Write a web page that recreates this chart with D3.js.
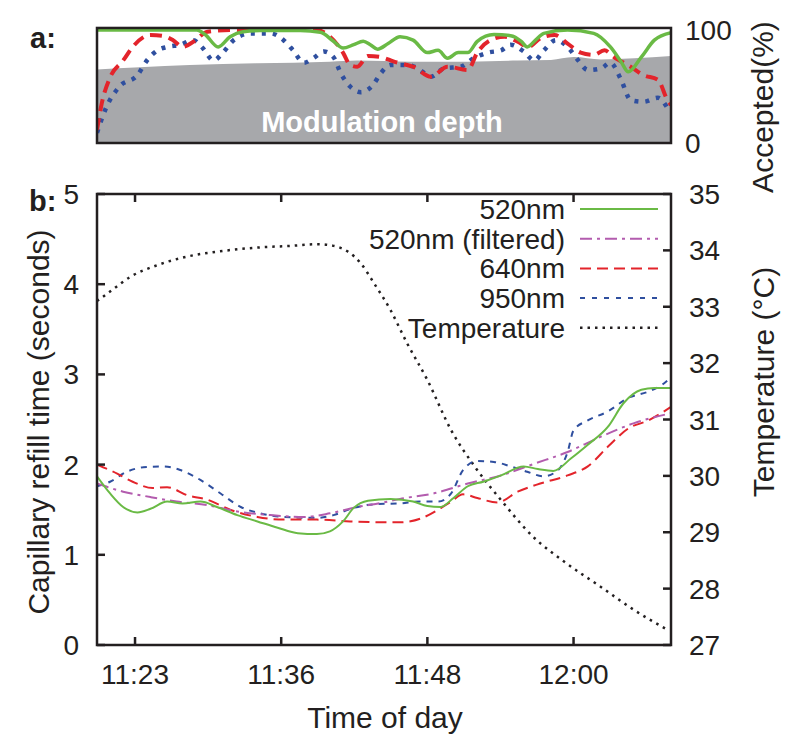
<!DOCTYPE html>
<html><head><meta charset="utf-8">
<script src="https://cdn.jsdelivr.net/npm/d3@7"></script>
<style>
body{margin:0;background:#fff}
text{font-family:"Liberation Sans",Arial,Helvetica,sans-serif;fill:#231f20}
</style>
</head><body><svg id="c" width="800" height="750"></svg>
<script>
// ---------- DATA (time = minutes after 11:00) ----------
// Panel a: acceptance (%) and modulation depth
const tGreenA = [20.7,29.1,29.8,30.9,31.9,33.0,34.4,37.8,39.5,40.6,41.4,42.3,43.1,43.7,44.3,45.2,46.2,47.3,48.5,49.4,50.2,51.1,51.9,52.7,54.1,55.5,56.4,56.9,57.6,58.3,60.3,62.5,63.9,64.8,65.4,66.5,67.6,69.0];
const accGreen = [100,100,96,85,94,98.5,99.5,99.5,98,90,84,87,90,87,83,88,94,91,80,82,75,80,80,90,96,95,90,85,91,97,100,97,85,72,63,76,91,97.6];
const tRedA = [20.7,21.1,21.8,22.9,23.7,25.2,26.3,27.1,27.9,28.8,30.0,31.9,39.2,40.3,41.4,42.0,42.6,43.5,44.6,45.7,46.8,47.3,48.8,50.2,51.9,52.7,53.8,55.0,56.1,57.0,58.0,59.2,60.3,61.4,62.5,63.4,64.2,65.6,66.7,67.9,68.7,69.0];
const accRed = [11.5,35,58,73,85,95.6,94.7,91,85,89.6,98.5,100,100,94,80,69,67.5,77,76,72,69,67.5,58.7,67.5,64.6,80,91,94,89.6,85,92.6,95.6,88,80,78,82,76,67.5,60,56,38,33.6];
const tBlueA = [20.7,21.5,22.6,24.1,24.9,25.8,26.6,27.7,28.8,29.6,30.5,31.3,32.2,33.6,35.3,36.4,37.2,38.1,38.9,39.8,40.6,41.2,42.0,42.9,43.9,44.6,45.4,46.8,47.7,48.8,49.9,51.3,52.4,53.6,54.7,55.5,56.6,57.5,58.3,59.3,60.3,61.2,62.0,63.1,63.9,64.8,65.6,66.7,67.9,68.7];
const accBlue = [9,32,50,60,73,82,85,87,91,84,73,80,91,97,97,91,82,71,75,81,76,62,50,45,51,62,69,69,66,58.7,66,67.5,75,80,82,87,81,73,82,91,85,73,64.6,66,71,56,38,36.5,40,31];
const tDepth = [20.7,24.3,28.5,34.2,40.3,42.6,47.1,51.9,56.1,58.9,60.8,63.1,65.9,69.0];
const depth = [65,67,69,70.5,72,73,72,72,73,73.5,76,74,75,77];

// Panel b: capillary refill time (s) and temperature (°C)
const t520 = [20.7,21.8,22.9,24.1,25.2,26.6,27.9,29.4,30.8,32.5,34.2,35.9,37.6,39.2,40.3,41.4,42.3,43.5,45.4,47.3,48.5,49.6,50.7,51.9,53.2,54.7,56.6,57.8,59.1,60.6,62.0,63.7,65.0,66.5,67.6,69.0];
const v520 = [1.87,1.68,1.53,1.47,1.51,1.59,1.57,1.59,1.53,1.44,1.37,1.30,1.24,1.23,1.26,1.37,1.52,1.60,1.62,1.59,1.54,1.53,1.63,1.76,1.81,1.88,1.98,1.95,1.93,2.07,2.22,2.42,2.68,2.83,2.85,2.85];
const tFilt = [20.7,22.9,25.2,27.4,30.0,32.5,35.3,38.1,40.3,42.6,44.8,46.2,49.0,51.9,54.7,57.5,60.3,63.1,65.9,69.0];
const vFilt = [1.79,1.70,1.64,1.59,1.55,1.48,1.44,1.42,1.46,1.53,1.58,1.62,1.68,1.79,1.88,2.01,2.14,2.31,2.46,2.57];
const t640 = [20.7,22.4,23.7,25.4,26.6,28.3,30.0,31.9,34.2,36.4,39.2,42.0,44.8,46.2,47.9,49.4,50.5,51.5,52.7,54.4,56.1,58.0,60.3,62.0,63.7,65.4,67.1,69.0];
const v640 = [2.00,1.90,1.81,1.74,1.75,1.66,1.61,1.50,1.42,1.39,1.39,1.37,1.36,1.36,1.40,1.50,1.59,1.67,1.63,1.58,1.70,1.79,1.88,1.98,2.20,2.40,2.49,2.64];
const t950 = [20.7,21.8,23.2,24.6,26.3,27.7,29.4,31.1,32.8,34.4,36.4,39.2,40.6,42.3,44.0,46.2,47.9,49.4,50.5,51.5,52.7,54.1,55.5,56.9,58.3,59.5,60.3,60.8,62.0,63.7,65.4,67.1,68.4,69.0];
const v950 = [1.76,1.81,1.92,1.97,1.98,1.94,1.83,1.68,1.53,1.46,1.42,1.41,1.44,1.52,1.56,1.57,1.59,1.59,1.68,1.94,2.04,2.03,1.98,1.92,1.87,1.94,2.14,2.38,2.49,2.59,2.74,2.81,2.90,2.97];
const tTemp = [20.7,21.8,23.5,25.8,28.5,31.3,34.2,37.0,39.2,40.6,41.8,42.9,44.0,45.4,46.8,48.5,50.5,52.4,54.7,57.4,60.0,63.1,65.9,68.7];
const temp = [33.10,33.27,33.53,33.74,33.90,33.99,34.05,34.08,34.11,34.08,33.98,33.77,33.42,32.94,32.35,31.70,30.81,30.19,29.57,28.92,28.48,28.03,27.62,27.27];

const xTickValues = [23.9, 36.2, 48.5, 60.8];
const xTickLabels = ["11:23","11:36","11:48","12:00"];
const yLeftTicks = [0,1,2,3,4,5];
const yRightTicks = [27,28,29,30,31,32,33,34,35];
const accTicks = [0,100];
const legendLabels = ["520nm","520nm (filtered)","640nm","950nm","Temperature"];

// ---------- STYLES ----------
const C = {green:"#6aba45", magenta:"#b35cae", red:"#e3242b", blue:"#2f4f9f", black:"#231f20", gray:"#a7a8ab"};

const svg = d3.select("#c");
const x = d3.scaleLinear().domain([20.7,69.0]).range([97,671]);
const yA = d3.scaleLinear().domain([0,100]).range([143,30]);
const yB = d3.scaleLinear().domain([0,5]).range([645,194]);
const yT = d3.scaleLinear().domain([27,35]).range([645,194]);

const defs = svg.append("defs");
defs.append("clipPath").attr("id","clipA").append("rect")
  .attr("x",x(20.7)).attr("y",yA(101.8)).attr("width",x(69)-x(20.7)).attr("height",yA(0)-yA(101.8));
defs.append("clipPath").attr("id","clipB").append("rect")
  .attr("x",x(20.7)).attr("y",yB(5)).attr("width",x(69)-x(20.7)).attr("height",yB(0)-yB(5));

function zip(t,v){return t.map((d,i)=>[d,v[i]]);}
function drawLine(g, t, v, ys, color, width, dash){
  const line = d3.line().x(d=>x(d[0])).y(d=>ys(d[1])).curve(d3.curveMonotoneX);
  g.append("path").datum(zip(t,v)).attr("d",line)
    .attr("fill","none").attr("stroke",color).attr("stroke-width",width)
    .attr("stroke-dasharray",dash||null).attr("stroke-linecap","butt").attr("stroke-linejoin","round");
}

// ---------- PANEL A ----------
const gA = svg.append("g");
const gAc = gA.append("g").attr("clip-path","url(#clipA)");
const area = d3.area().x(d=>x(d[0])).y0(yA(0)).y1(d=>yA(d[1])).curve(d3.curveMonotoneX);
gAc.append("path").datum(zip(tDepth,depth)).attr("d",area).attr("fill",C.gray);
gA.append("text").attr("x",382).attr("y",132).attr("text-anchor","middle")
  .style("font-weight","bold").style("font-size","29px").style("fill","#fff").text("Modulation depth");
drawLine(gAc, tBlueA, accBlue, yA, C.blue, 4.5, "4,7");
drawLine(gAc, tRedA, accRed, yA, C.red, 4, "12,7");
drawLine(gAc, tGreenA, accGreen, yA, C.green, 3.5, null);
gA.append("rect").attr("x",x(20.7)).attr("y",yA(101.8)).attr("width",x(69)-x(20.7)).attr("height",yA(0)-yA(101.8))
  .attr("fill","none").attr("stroke",C.black).attr("stroke-width",2.5);
gA.selectAll("text.acc").data(accTicks).join("text").attr("class","acc")
  .attr("x",685).attr("y",d=>yA(d)+10).style("font-size","28px").text(d=>d);
svg.append("text").attr("transform","translate(773,107) rotate(-90)").attr("text-anchor","middle")
  .style("font-size","30px").text("Accepted(%)");
svg.append("text").attr("x",30).attr("y",48).style("font-weight","bold").style("font-size","29px").text("a:");

// ---------- PANEL B ----------
const gB = svg.append("g");
const gBc = gB.append("g").attr("clip-path","url(#clipB)");
drawLine(gBc, tTemp, temp, yT, C.black, 2.5, "2.5,5");
drawLine(gBc, t950, v950, yB, C.blue, 2, "6,6");
drawLine(gBc, t640, v640, yB, C.red, 2, "11,6");
drawLine(gBc, tFilt, vFilt, yB, C.magenta, 2, "12,5,3,5");
drawLine(gBc, t520, v520, yB, C.green, 2, null);

// frame
gB.append("rect").attr("x",x(20.7)).attr("y",yB(5)).attr("width",x(69)-x(20.7)).attr("height",yB(0)-yB(5))
  .attr("fill","none").attr("stroke",C.black).attr("stroke-width",2.5);
// x ticks (bottom & top, inward)
xTickValues.forEach((v,i)=>{
  gB.append("line").attr("x1",x(v)).attr("x2",x(v)).attr("y1",yB(0)).attr("y2",yB(0)-8).attr("stroke",C.black).attr("stroke-width",2.5);
  gB.append("line").attr("x1",x(v)).attr("x2",x(v)).attr("y1",yB(5)).attr("y2",yB(5)+8).attr("stroke",C.black).attr("stroke-width",2.5);
  gB.append("text").attr("x",x(v)).attr("y",yB(0)+39).attr("text-anchor","middle").style("font-size","28px").text(xTickLabels[i]);
});
// left axis
yLeftTicks.forEach(v=>{
  gB.append("line").attr("x1",x(20.7)).attr("x2",x(20.7)+8).attr("y1",yB(v)).attr("y2",yB(v)).attr("stroke",C.black).attr("stroke-width",2.5);
  gB.append("text").attr("x",79).attr("y",yB(v)+10).attr("text-anchor","end").style("font-size","28px").text(v);
});
// right axis
yRightTicks.forEach(v=>{
  gB.append("line").attr("x1",x(69)).attr("x2",x(69)-8).attr("y1",yT(v)).attr("y2",yT(v)).attr("stroke",C.black).attr("stroke-width",2.5);
  gB.append("text").attr("x",689).attr("y",yT(v)+10).style("font-size","28px").text(v);
});
svg.append("text").attr("transform","translate(49,422) rotate(-90)").attr("text-anchor","middle")
  .style("font-size","30px").text("Capillary refill time (seconds)");
svg.append("text").attr("transform","translate(774,382) rotate(-90)").attr("text-anchor","middle")
  .style("font-size","30px").text("Temperature (°C)");
svg.append("text").attr("x",385).attr("y",728).attr("text-anchor","middle").style("font-size","30px").text("Time of day");
svg.append("text").attr("x",29).attr("y",211).style("font-weight","bold").style("font-size","29px").text("b:");

// legend
const legStyles = [[C.green,null],[C.magenta,"12,5,3,5"],[C.red,"11,6"],[C.blue,"5,7"],[C.black,"2.5,5"]];
legendLabels.forEach((lab,i)=>{
  const cy = 209 + i*29.7;
  gB.append("text").attr("x",565).attr("y",cy+10).attr("text-anchor","end").style("font-size","28px").text(lab);
  gB.append("line").attr("x1",580).attr("x2",658).attr("y1",cy).attr("y2",cy)
    .attr("stroke",legStyles[i][0]).attr("stroke-width",i===4?2.5:2).attr("stroke-dasharray",legStyles[i][1]);
});
</script>
</body></html>
